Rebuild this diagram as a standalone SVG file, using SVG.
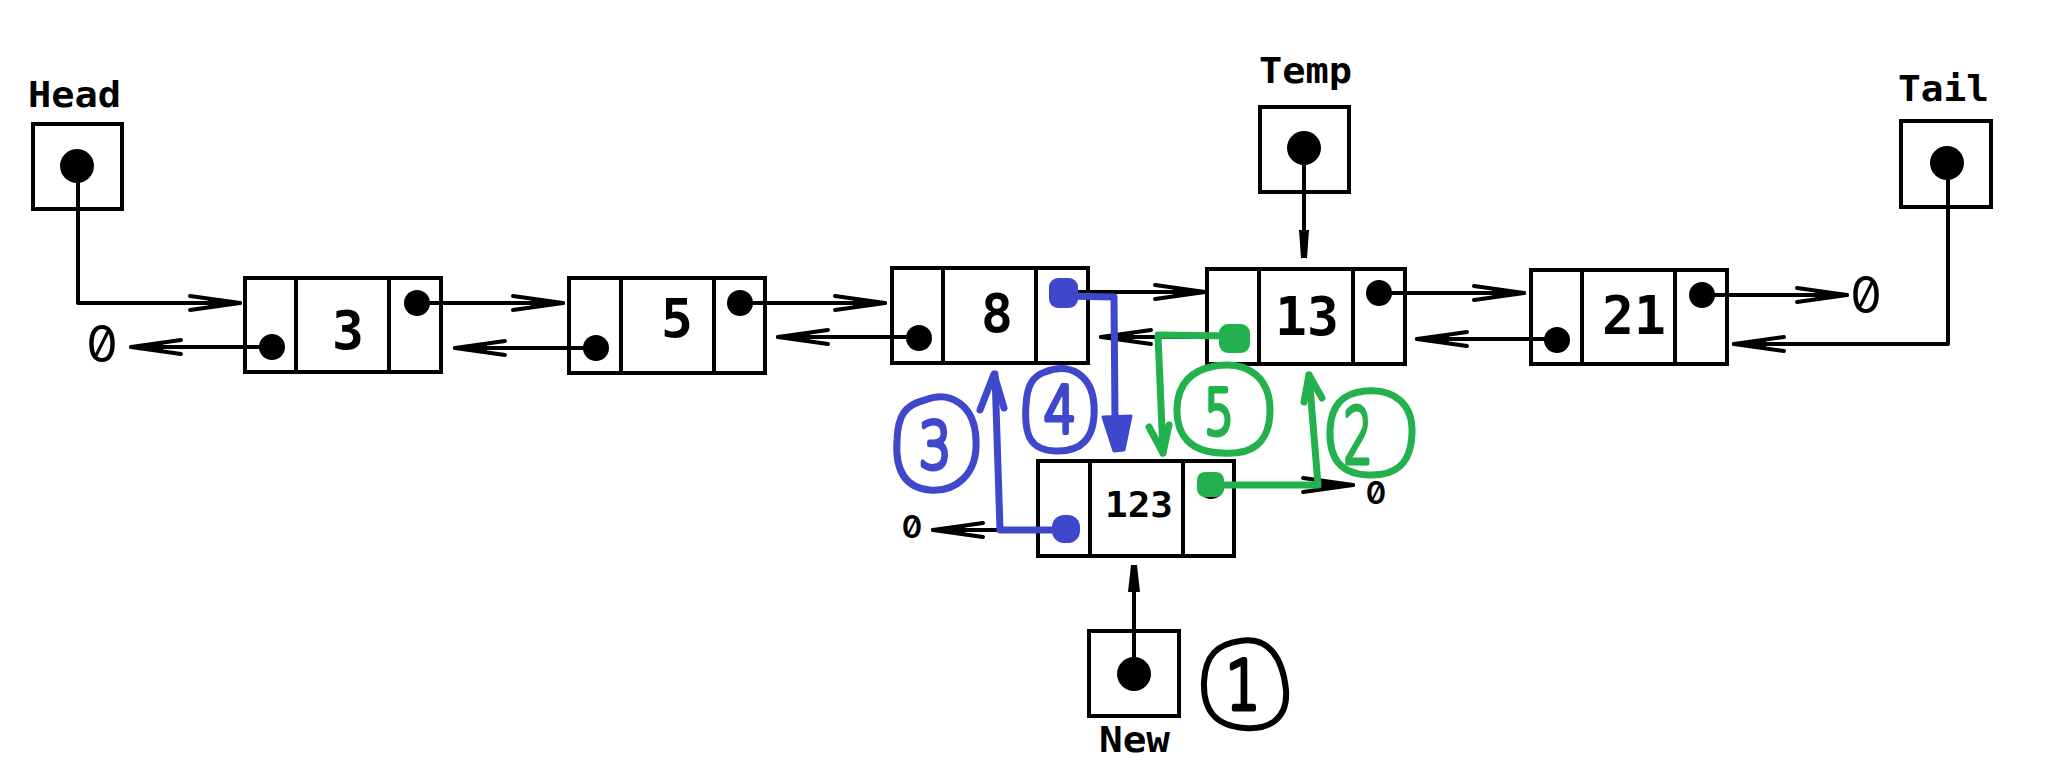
<svg xmlns="http://www.w3.org/2000/svg" width="2050" height="766" viewBox="0 0 2050 766">
  <defs>
    <style>
      .box{fill:#fff;stroke:#000;stroke-width:4}
      .div{stroke:#000;stroke-width:4}
      .dot{fill:#000}
      .ln{fill:none;stroke:#000;stroke-width:4;stroke-linecap:round;stroke-linejoin:round}
      .lbl{font-family:"DejaVu Sans Mono","Liberation Mono",monospace;font-weight:bold;font-size:36px;fill:#000}
      .val{font-family:"DejaVu Sans Mono","Liberation Mono",monospace;font-weight:bold;font-size:53px;fill:#000;text-anchor:middle}
      .small{font-family:"DejaVu Sans Mono","Liberation Mono",monospace;font-weight:bold;font-size:35px;fill:#000;text-anchor:middle}
      .nil{font-family:Inter,"DejaVu Sans Mono",monospace;font-feature-settings:"zero" 1;font-weight:400;font-size:50px;fill:#000;text-anchor:middle}
      .nil-s{font-family:Inter,"DejaVu Sans Mono",monospace;font-feature-settings:"zero" 1;font-weight:600;font-size:31px;fill:#000;text-anchor:middle}
      .blue{fill:none;stroke:#3F48CC;stroke-width:7;stroke-linecap:round;stroke-linejoin:round}
      .green{fill:none;stroke:#22B14C;stroke-width:7;stroke-linecap:round;stroke-linejoin:round}
      .ink{fill:none;stroke:#000;stroke-width:6;stroke-linecap:round;stroke-linejoin:round}
      .hand{font-family:"DejaVu Sans","Liberation Sans",sans-serif;font-weight:200;text-anchor:middle;stroke-width:5;stroke-linejoin:round;stroke-linecap:round}
    </style>
    <marker id="ah" markerUnits="userSpaceOnUse" markerWidth="60" markerHeight="20" refX="0" refY="0" orient="auto" overflow="visible">
      <path d="M-50,-7 L0,0 L-50,7" fill="none" stroke="#000" stroke-width="4" stroke-linecap="round" stroke-linejoin="round"/>
      <path d="M-32,-3.5 L0,0 L-32,3.5 Z" fill="#000"/>
    </marker>
  </defs>

  <!-- pointer variables -->
  <g id="head">
    <text class="lbl" x="28" y="107" textLength="93" lengthAdjust="spacingAndGlyphs">Head</text>
    <rect class="box" x="33" y="124" width="89" height="85"/>
    <circle class="dot" cx="77" cy="166" r="17"/>
  </g>
  <g id="temp">
    <text class="lbl" x="1259" y="83" textLength="93" lengthAdjust="spacingAndGlyphs">Temp</text>
    <rect class="box" x="1260" y="107" width="89" height="85"/>
    <circle class="dot" cx="1304" cy="148" r="17"/>
  </g>
  <g id="tail">
    <text class="lbl" x="1898" y="101" textLength="91" lengthAdjust="spacingAndGlyphs">Tail</text>
    <rect class="box" x="1901" y="121" width="90" height="86"/>
    <circle class="dot" cx="1947" cy="163" r="17"/>
  </g>
  <g id="new">
    <rect class="box" x="1089" y="631" width="90" height="85"/>
    <circle class="dot" cx="1134" cy="674" r="17"/>
    <text class="lbl" x="1099" y="752" textLength="71" lengthAdjust="spacingAndGlyphs">New</text>
  </g>

  <!-- list nodes: prev | value | next -->
  <g id="node-3">
    <rect class="box" x="245" y="278" width="196" height="94"/>
    <line class="div" x1="296" y1="278" x2="296" y2="372"/>
    <line class="div" x1="389" y1="278" x2="389" y2="372"/>
    <text class="val" x="348" y="349">3</text>
    <circle class="dot" cx="272" cy="347" r="13"/>
    <circle class="dot" cx="417" cy="303" r="13"/>
  </g>
  <g id="node-5">
    <rect class="box" x="569" y="278" width="196" height="95"/>
    <line class="div" x1="621" y1="278" x2="621" y2="373"/>
    <line class="div" x1="714" y1="278" x2="714" y2="373"/>
    <text class="val" x="677" y="337">5</text>
    <circle class="dot" cx="596" cy="348" r="13"/>
    <circle class="dot" cx="740" cy="303" r="13"/>
  </g>
  <g id="node-8">
    <rect class="box" x="892" y="268" width="196" height="95"/>
    <line class="div" x1="943" y1="268" x2="943" y2="363"/>
    <line class="div" x1="1036" y1="268" x2="1036" y2="363"/>
    <text class="val" x="997" y="332">8</text>
    <circle class="dot" cx="919" cy="338" r="13"/>
    <circle class="dot" cx="1063" cy="293" r="13"/>
  </g>
  <g id="node-13">
    <rect class="box" x="1207" y="269" width="198" height="95"/>
    <line class="div" x1="1259" y1="269" x2="1259" y2="364"/>
    <line class="div" x1="1353" y1="269" x2="1353" y2="364"/>
    <text class="val" x="1307" y="335">13</text>
    <circle class="dot" cx="1233" cy="338" r="13"/>
    <circle class="dot" cx="1379" cy="293" r="13"/>
  </g>
  <g id="node-21">
    <rect class="box" x="1531" y="270" width="196" height="94"/>
    <line class="div" x1="1582" y1="270" x2="1582" y2="364"/>
    <line class="div" x1="1675" y1="270" x2="1675" y2="364"/>
    <text class="val" x="1634" y="334">21</text>
    <circle class="dot" cx="1557" cy="340" r="13"/>
    <circle class="dot" cx="1702" cy="295" r="13"/>
  </g>
  <g id="node-123">
    <rect class="box" x="1038" y="461" width="196" height="95"/>
    <line class="div" x1="1090" y1="461" x2="1090" y2="556"/>
    <line class="div" x1="1183" y1="461" x2="1183" y2="556"/>
    <text class="small" x="1139" y="517" textLength="68" lengthAdjust="spacingAndGlyphs">123</text>
    <circle class="dot" cx="1066" cy="530" r="13"/>
    <circle class="dot" cx="1211" cy="486" r="13"/>
  </g>

  <!-- null ends -->
  <g id="nulls">
    <text class="nil" x="102" y="362">0</text>
    <text class="nil" x="1866" y="313">0</text>
    <text class="nil-s" x="912" y="538">0</text>
    <text class="nil-s" x="1376" y="504">0</text>
  </g>

  <!-- pointer links -->
  <g id="connectors">
    <path class="ln" d="M78,183 V303 H240" marker-end="url(#ah)"/>
    <path class="ln" d="M417,303 H563" marker-end="url(#ah)"/>
    <path class="ln" d="M272,347 H131" marker-end="url(#ah)"/>
    <path class="ln" d="M740,303 H885" marker-end="url(#ah)"/>
    <path class="ln" d="M596,348 H455" marker-end="url(#ah)"/>
    <path class="ln" d="M919,337 H778" marker-end="url(#ah)"/>
    <path class="ln" d="M1063,292 H1205" marker-end="url(#ah)"/>
    <path class="ln" d="M1233,337 H1101" marker-end="url(#ah)"/>
    <path class="ln" d="M1379,293 H1524" marker-end="url(#ah)"/>
    <path class="ln" d="M1557,339 H1417" marker-end="url(#ah)"/>
    <path class="ln" d="M1702,295 H1847" marker-end="url(#ah)"/>
    <path class="ln" d="M1948,180 V344 H1734" marker-end="url(#ah)"/>
    <path class="ln" d="M1066,530 H933" marker-end="url(#ah)"/>
    <path class="ln" d="M1211,485 H1353" marker-end="url(#ah)"/>
    <path class="ln" d="M1304,165 V232"/>
    <polygon points="1299,230 1309,230 1307,258 1301,258" fill="#000"/>
    <path class="ln" d="M1134,657 V592"/>
    <polygon points="1128,592 1140,592 1137,565 1131,565" fill="#000"/>
  </g>

  <!-- numbered insertion steps, painted over the list -->
  <g id="step-1">
    <path class="ink" d="M1240,641 C1270,636 1283,660 1286,690 C1288,718 1270,730 1245,728 C1215,726 1203,710 1204,682 C1205,655 1218,644 1240,641 Z"/>
    <text class="hand" x="1243" y="709" font-size="68" fill="#000" stroke="#000" transform="translate(1243,709) scale(0.8,1) translate(-1243,-709)">1</text>
  </g>
  <g id="step-2">
    <rect x="1197" y="472" width="27" height="25" rx="8" fill="#22B14C"/>
    <path class="green" d="M1210,485 L1318,485 L1309,375"/>
    <path class="green" d="M1304,402 L1309,375 L1322,398"/>
    <path class="green" d="M1365,391 C1395,388 1413,405 1412,433 C1411,465 1395,476 1368,475 C1340,474 1329,458 1330,430 C1331,405 1343,393 1365,391 Z"/>
    <text class="hand" x="1358" y="463" font-size="76" fill="#22B14C" stroke="#22B14C" transform="translate(1358,463) scale(0.6,1) translate(-1358,-463)">2</text>
  </g>
  <g id="step-3">
    <rect x="1052" y="515" width="28" height="28" rx="12" fill="#3F48CC"/>
    <path class="blue" d="M1066,530 L1000,530 L995,374"/>
    <path class="blue" d="M980,410 L994,374 L1004,408"/>
    <path class="blue" d="M925,400 C950,390 975,405 976,440 C978,475 955,492 930,490 C905,488 895,470 897,440 C898,415 905,405 925,400 Z"/>
    <text class="hand" x="935" y="468" font-size="64" fill="#3F48CC" stroke="#3F48CC" transform="translate(935,468) scale(0.8,1) translate(-935,-468)">3</text>
  </g>
  <g id="step-4">
    <rect x="1049" y="278" width="29" height="30" rx="9" fill="#3F48CC"/>
    <path class="blue" d="M1063,296 L1114,297 L1115,420"/>
    <polygon points="1103,417 1131,416 1124,450 1114,451" fill="#3F48CC" stroke="#3F48CC" stroke-width="3" stroke-linejoin="round"/>
    <path class="blue" d="M1045,372 C1070,362 1092,375 1094,405 C1096,440 1080,452 1055,451 C1030,450 1024,435 1026,405 C1027,385 1033,376 1045,372 Z"/>
    <text class="hand" x="1060" y="432" font-size="64" fill="#3F48CC" stroke="#3F48CC" transform="translate(1060,432) scale(0.8,1) translate(-1060,-432)">4</text>
  </g>
  <g id="step-5">
    <rect x="1219" y="324" width="31" height="29" rx="9" fill="#22B14C"/>
    <path class="green" d="M1234,336 L1158,335 L1163,453"/>
    <path class="green" d="M1149,427 L1163,453 L1169,425"/>
    <path class="green" d="M1215,366 C1250,360 1270,380 1270,410 C1270,445 1250,455 1222,453 C1190,452 1176,435 1177,408 C1178,383 1192,370 1215,366 Z"/>
    <text class="hand" x="1219" y="434" font-size="62" fill="#22B14C" stroke="#22B14C" transform="translate(1219,434) scale(0.75,1) translate(-1219,-434)">5</text>
  </g>
</svg>
